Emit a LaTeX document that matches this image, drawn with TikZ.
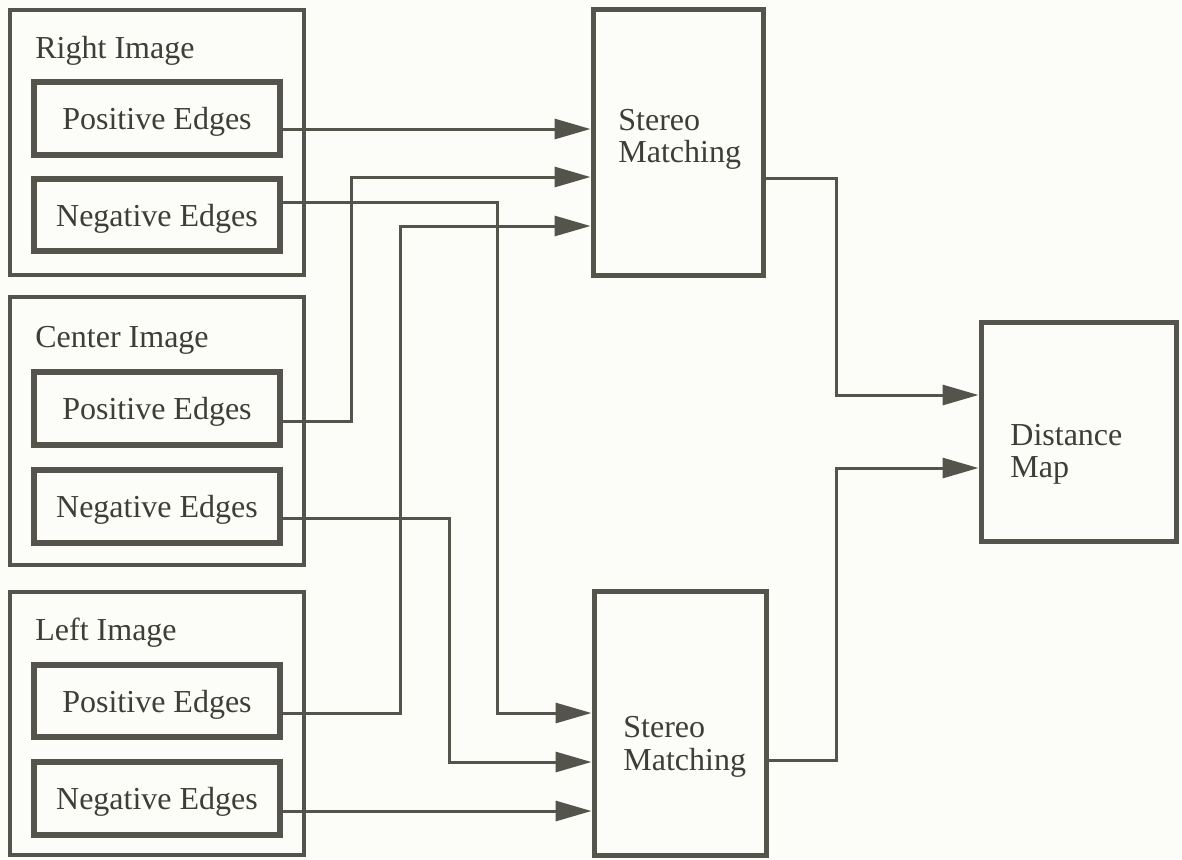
\documentclass[tikz,border=0pt]{standalone}
\usepackage{fontspec}
\setmainfont{Liberation Serif}
\usetikzlibrary{arrows.meta}
\definecolor{lc}{RGB}{84,84,76}
\definecolor{tc}{RGB}{62,62,56}
\definecolor{bg}{RGB}{252,252,248}
\begin{document}
\begin{tikzpicture}[x=0.5pt,y=-0.5pt,
  outerbox/.style={draw=lc, line width=2.2pt, inner sep=0pt, minimum width=147pt},
  innerbox/.style={draw=lc, line width=2.75pt, inner sep=0pt, minimum width=123pt,
     text depth=0pt, font=\fontsize{16}{18}\selectfont, text=tc},
  procbox/.style={draw=lc, line width=2.5pt, inner sep=0pt},
  lbl/.style={inner sep=0pt, anchor=base west, font=\fontsize{16}{18}\selectfont, text=tc},
  conn/.style={draw=lc, line width=1.5pt, line join=miter},
  arr/.style={conn, -{Triangle[length=18pt, width=10pt]}}
]
\fill[bg] (0,0) rectangle (1182,859);
\useasboundingbox (0,0) rectangle (1182,859);

% outer image boxes
\node[outerbox, minimum height=132.5pt] (ri) at (157,142.5) {};
\node[outerbox, minimum height=134pt] (ci) at (157,431) {};
\node[outerbox, minimum height=131.5pt] (li) at (157,723.5) {};
\node[lbl] (ril) at (35,58) {Right Image};
\node[lbl] (cil) at (35,347) {Center Image};
\node[lbl] (lil) at (35,640) {Left Image};

% inner edge boxes
\node[innerbox, minimum height=36.5pt] (rp) at (157,118.5) {Positive Edges};
\node[innerbox, minimum height=36pt] (rn) at (157,215) {Negative Edges};
\node[innerbox, minimum height=36.5pt] (cp) at (157,408.5) {Positive Edges};
\node[innerbox, minimum height=36.5pt] (cn) at (157,506.5) {Negative Edges};
\node[innerbox, minimum height=36pt] (lp) at (157,701) {Positive Edges};
\node[innerbox, minimum height=36.5pt] (ln) at (157,798.5) {Negative Edges};

% processing boxes
\node[procbox, minimum width=85pt, minimum height=133pt] (sm1) at (678,142) {};
\node[procbox, minimum width=86pt, minimum height=132pt] (sm2) at (680,723) {};
\node[procbox, minimum width=97.5pt, minimum height=109.5pt] (dm) at (1078.5,431.5) {};
\node[lbl] (sm1a) at (618,130) {Stereo};
\node[lbl] (sm1b) at (618,162) {Matching};
\node[lbl] (sm2a) at (623,737) {Stereo};
\node[lbl] (sm2b) at (623,770) {Matching};
\node[lbl] (dma) at (1010,445) {Distance};
\node[lbl] (dmb) at (1010,477) {Map};

% connectors
\draw[arr] (rp.east |- 0,129) -- (sm1.west |- 0,129);
\draw[arr] (rn.east |- 0,202) -- (497,202) -- (497,713) -- (sm2.west |- 0,713);
\draw[arr] (cp.east |- 0,421) -- (351,421) -- (351,177) -- (sm1.west |- 0,177);
\draw[arr] (cn.east |- 0,518) -- (449,518) -- (449,762) -- (sm2.west |- 0,762);
\draw[arr] (lp.east |- 0,713) -- (400,713) -- (400,226) -- (sm1.west |- 0,226);
\draw[arr] (ln.east |- 0,811) -- (sm2.west |- 0,811);
\draw[arr] (sm1.east |- 0,178) -- (836,178) -- (836,395) -- (dm.west |- 0,395);
\draw[arr] (sm2.east |- 0,760) -- (836,760) -- (836,468) -- (dm.west |- 0,468);
\end{tikzpicture}
\end{document}
